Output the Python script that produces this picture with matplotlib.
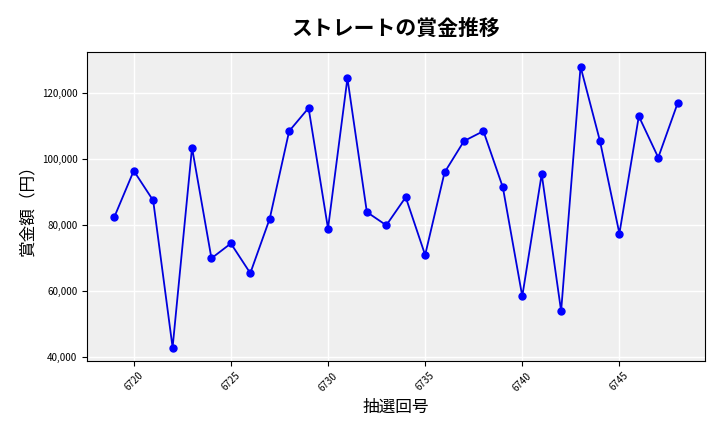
import matplotlib.pyplot as plt
import matplotlib.ticker as mticker

plt.rcParams['font.family'] = ['Noto Sans CJK JP', 'DejaVu Sans']

draws = list(range(6719, 6749))
prizes = [82500, 96500, 87500, 43000, 103500, 70000, 74500, 65500, 82000, 108500,
          115500, 79000, 124500, 84000, 80000, 88500, 71000, 96000, 105500, 108500,
          91500, 58500, 95500, 54000, 128000, 105500, 77500, 113000, 100500, 117000]

fig = plt.figure(figsize=(7.2, 4.32), dpi=100)
ax = fig.add_axes([0.121, 0.165, 0.858, 0.715])
ax.set_facecolor('#efefef')
ax.grid(True, color='white', linewidth=1)
ax.set_axisbelow(True)

ax.plot(draws, prizes, color='#0000dd', marker='o', markersize=5, linewidth=1.3,
        markerfacecolor='#0000ff', markeredgecolor='#0000ff')

ax.set_title('ストレートの賞金推移', fontsize=15, fontweight='bold', pad=12)
ax.set_xlabel('抽選回号', fontsize=12)
ax.set_ylabel('賞金額（円）', fontsize=12)
ax.xaxis.set_major_locator(mticker.MultipleLocator(5))
ax.yaxis.set_major_formatter(mticker.FuncFormatter(lambda v, p: f'{int(v):,}'))
ax.tick_params(axis='x', labelsize=7, rotation=45)
ax.tick_params(axis='y', labelsize=7)
ax.set_xlim(6717.6, 6749.4)
ax.set_ylim(39000, 132500)

fig.savefig('out.png', dpi=100)
